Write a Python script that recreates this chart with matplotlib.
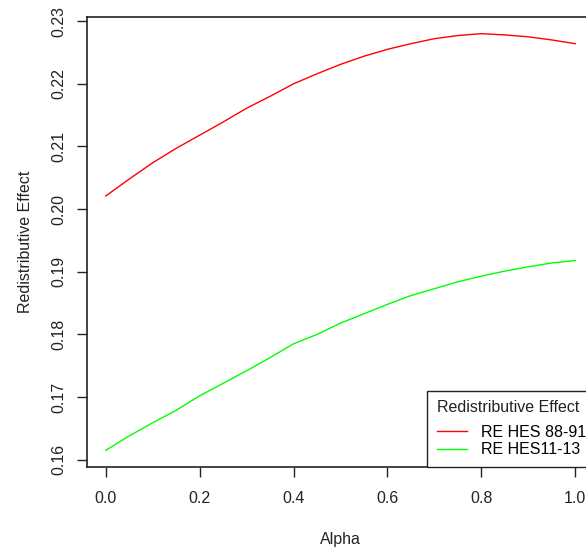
import numpy as np
import matplotlib.pyplot as plt

plt.rcParams['font.family'] = ['Liberation Sans', 'DejaVu Sans']

# values
alpha = [0.0, 0.05, 0.1, 0.15, 0.2, 0.25, 0.3, 0.35, 0.4, 0.45, 0.5,
         0.55, 0.6, 0.65, 0.7, 0.75, 0.8, 0.85, 0.9, 0.95, 1.0]
re_88_91 = [0.2021, 0.2048, 0.2074, 0.2097, 0.2118, 0.2139, 0.2161, 0.2180, 0.2200, 0.2216, 0.2231,
            0.2244, 0.2255, 0.2264, 0.2272, 0.2277, 0.2280, 0.2278, 0.2275, 0.2270, 0.2264]
re_11_13 = [0.1615, 0.1638, 0.1659, 0.1679, 0.1702, 0.1722, 0.1742, 0.1763, 0.1785, 0.1800, 0.1818,
            0.1833, 0.1848, 0.1862, 0.1873, 0.1884, 0.1893, 0.1901, 0.1908, 0.1914, 0.1918]
series_names = ['RE HES 88-91', 'RE HES11-13']
x_ticks = [0.0, 0.2, 0.4, 0.6, 0.8, 1.0]
y_ticks = [0.16, 0.17, 0.18, 0.19, 0.20, 0.21, 0.22, 0.23]

W, H = 586, 549
fs = 11.5
fig = plt.figure(figsize=(W / 100, H / 100), dpi=100)
# plot box runs past the right edge, as in the cropped reference
ax = fig.add_axes([87 / W, (H - 467) / H, (594 - 87) / W, (467 - 17) / H])

ax.plot(alpha, re_88_91, color='#ff0000', lw=1.0, label=series_names[0])
ax.plot(alpha, re_11_13, color='#00ff00', lw=1.0, label=series_names[1])

# R style 4% padding
xr = max(alpha) - min(alpha)
ax.set_xlim(min(alpha) - 0.04 * xr, max(alpha) + 0.04 * xr)
ymin = min(re_11_13 + re_88_91)
ymax = max(re_11_13 + re_88_91)
yr = ymax - ymin
ax.set_ylim(ymin - 0.04 * yr, ymax + 0.04 * yr)

ax.set_xticks(x_ticks)
ax.set_xticklabels(['%.1f' % v for v in x_ticks])
ax.set_yticks(y_ticks)
ax.set_yticklabels(['%.2f' % v for v in y_ticks], rotation=90, va='center')
ax.tick_params(length=7, width=1, color='#222222', labelsize=fs, labelcolor='#222222')
ax.tick_params(axis='x', pad=10)
ax.tick_params(axis='y', pad=8)

for s in ax.spines.values():
    s.set_linewidth(1.2)
    s.set_color('#222222')

ax.set_xlabel('Alpha', fontsize=fs, color='#222222', labelpad=19)
ax.set_ylabel('Redistributive Effect', fontsize=fs, color='#222222', labelpad=13)

leg = ax.legend(title='Redistributive Effect', loc='lower left',
                bbox_to_anchor=((427 - 87) / (594 - 87), 0.0), borderaxespad=0,
                fontsize=fs, title_fontsize=fs, fancybox=False, framealpha=1,
                edgecolor='#222222', handlelength=1.9, handletextpad=0.85,
                borderpad=0.6, labelspacing=0.15, alignment='left')
leg._legend_box.sep = 0.6 * fs  # wider gap under the title
leg.get_frame().set_linewidth(1.0)
leg.get_title().set_color('#222222')

fig.savefig('out.png', dpi=100)
